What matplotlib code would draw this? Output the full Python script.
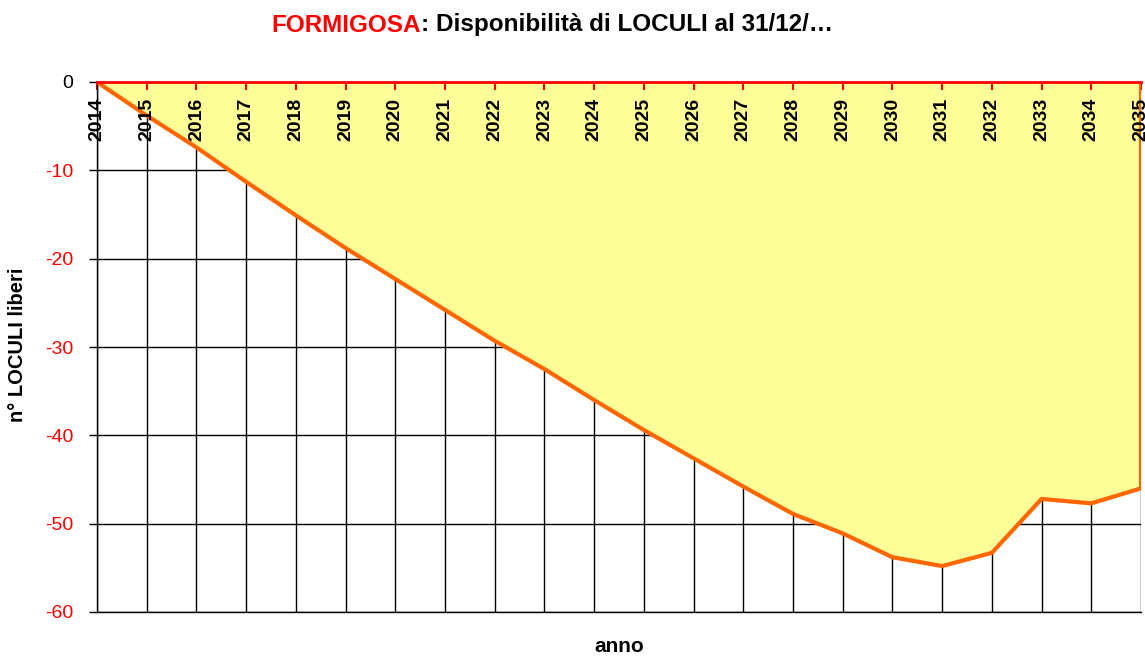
import numpy as np
import matplotlib.pyplot as plt
from matplotlib.transforms import offset_copy

plt.rcParams['font.family'] = ['Liberation Sans', 'DejaVu Sans']

# Data
anni = [2014, 2015, 2016, 2017, 2018, 2019, 2020, 2021, 2022, 2023, 2024,
        2025, 2026, 2027, 2028, 2029, 2030, 2031, 2032, 2033, 2034, 2035]
loculi_liberi = [0, -3.8, -7.4, -11.3, -15.1, -18.8, -22.3, -25.8, -29.3, -32.5, -36.0,
                 -39.4, -42.6, -45.8, -48.9, -51.1, -53.8, -54.8, -53.3, -47.2, -47.7, -46.0]
y_ticks = [0, -10, -20, -30, -40, -50, -60]

orange = '#FF6600'
yellow = '#FFFF99'

fig = plt.figure(figsize=(11.45, 6.57), dpi=100)
ax = fig.add_axes([97 / 1145, 1 - 612 / 657, (1141 - 97) / 1145, (612 - 82) / 657])

ax.set_xlim(anni[0], anni[-1])
ax.set_ylim(-60, 0)

# grid below the area
for a in anni:
    ax.axvline(a, color='black', lw=1, zorder=0)
for t in y_ticks:
    ax.axhline(t, color='black', lw=1, zorder=0)

ax.fill_between(anni, loculi_liberi, 0, color=yellow, lw=0, zorder=1)
ax.plot(anni, loculi_liberi, color=orange, lw=3, zorder=3, solid_joinstyle='miter')
ax.plot([anni[-1], anni[-1]], [loculi_liberi[-1], 0], color=orange, lw=3, zorder=3)

# axes styling
ax.spines['right'].set_visible(False)
ax.spines['top'].set_color('red')
ax.spines['top'].set_linewidth(2)
ax.spines['top'].set_zorder(4)
ax.spines['left'].set_linewidth(1)
ax.spines['bottom'].set_linewidth(1)

ax.set_yticks(y_ticks)
ax.set_yticklabels([str(t) for t in y_ticks], fontsize=14)
for lbl, t in zip(ax.get_yticklabels(), y_ticks):
    lbl.set_color('black' if t == 0 else 'red')
ax.tick_params(axis='y', direction='out', length=6, width=1, color='black', pad=11)

ax.set_xticks(anni)
ax.tick_params(axis='x', which='both', bottom=False, labelbottom=False,
               top=True, labeltop=False, direction='in', length=6, width=1.5, color='red')

trans = offset_copy(ax.transData, fig=fig, x=0, y=-16, units='dots')
for a in anni:
    ax.text(a, 0, str(a), rotation=90, ha='center', va='top', fontsize=14,
            fontweight='bold', transform=trans, zorder=5, clip_on=False)

fig.text(18 / 1145, 1 - 345 / 657, 'n° LOCULI liberi', rotation=90, ha='center',
         va='center', fontsize=14.5, fontweight='bold')
fig.text(619 / 1145, 1 - 646 / 657, 'anno', ha='center', va='center',
         fontsize=15, fontweight='bold')

# two-colour title
fig.canvas.draw()
renderer = fig.canvas.get_renderer()
t1 = fig.text(0, 1 - 25 / 657, 'FORMIGOSA', color='red', fontsize=17.5,
              fontweight='bold', ha='left', va='center')
t2_str = ': Disponibilità di LOCULI al 31/12/…'
t2 = fig.text(0, 1 - 25 / 657, t2_str, color='black', fontsize=17.5,
              fontweight='bold', ha='left', va='center')
w1 = t1.get_window_extent(renderer).width
w2 = t2.get_window_extent(renderer).width
x0 = 552 - (w1 + w2) / 2
t1.set_x(x0 / 1145)
t2.set_x((x0 + w1) / 1145)

fig.savefig('out.png', dpi=100)
